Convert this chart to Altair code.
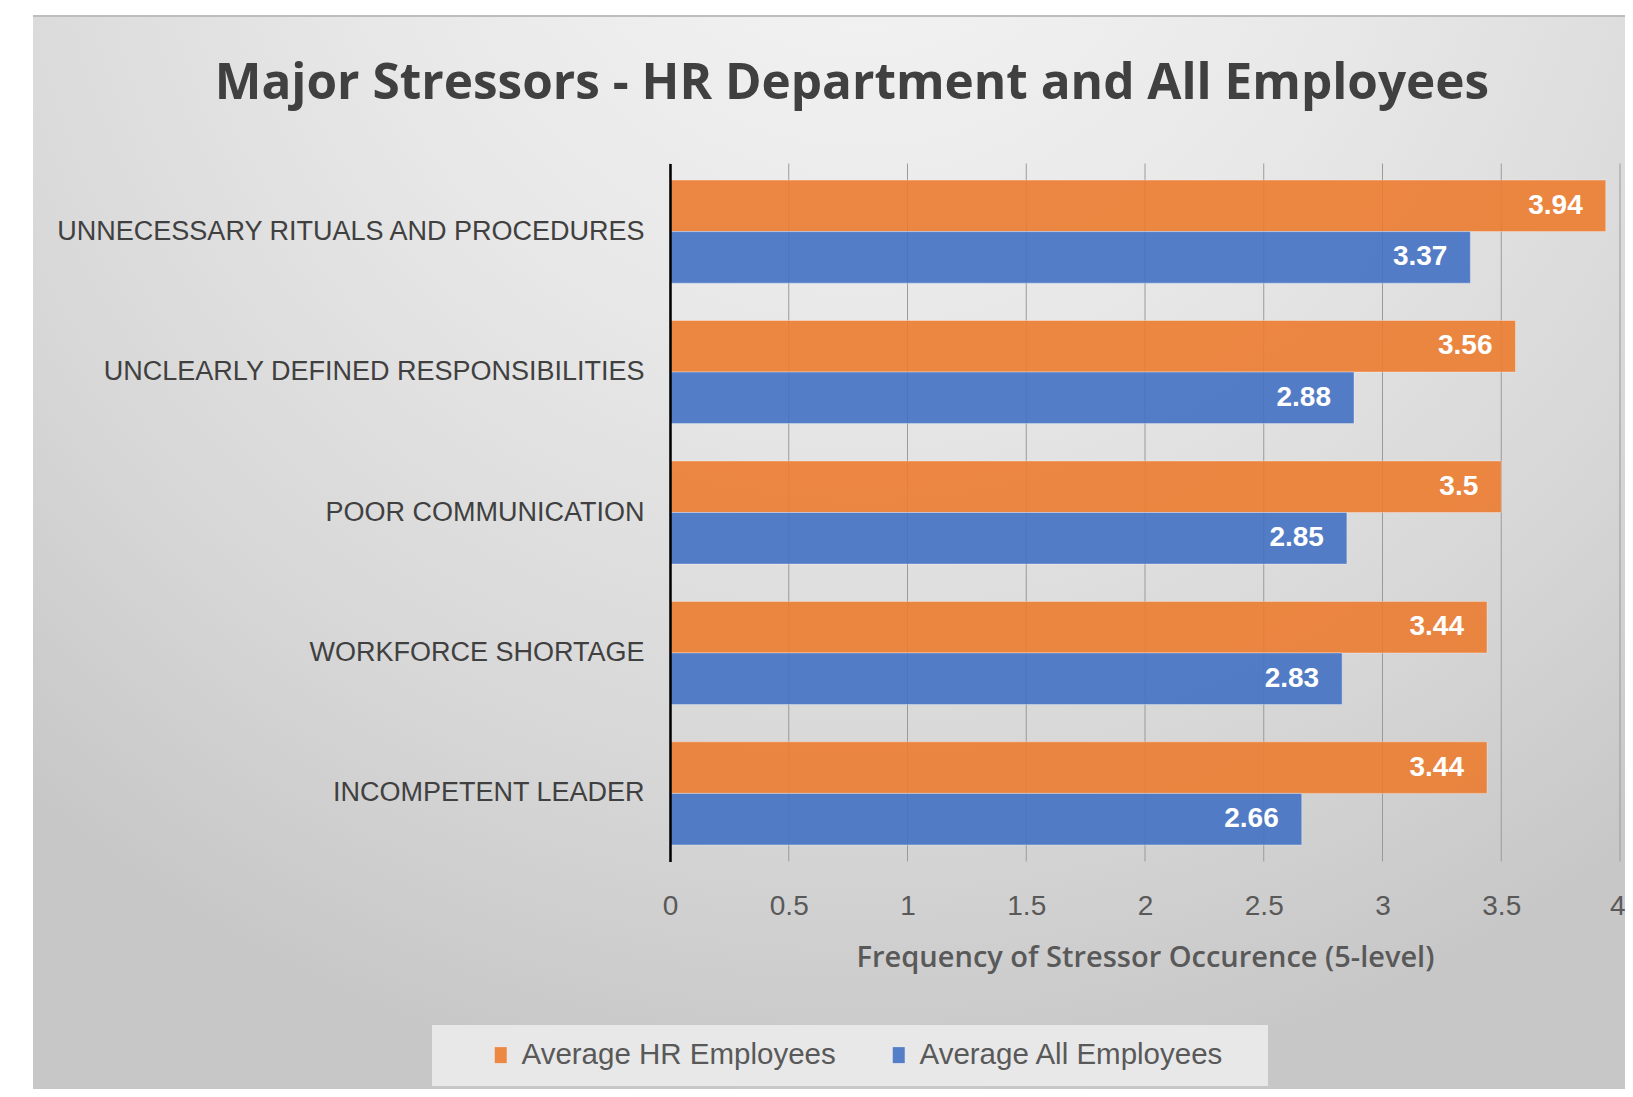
import altair as alt
import pandas as pd

# ---- data ----
categories = [
    "UNNECESSARY RITUALS AND PROCEDURES",
    "UNCLEARLY DEFINED RESPONSIBILITIES",
    "POOR COMMUNICATION",
    "WORKFORCE SHORTAGE",
    "INCOMPETENT LEADER",
]
series_names = ["Average HR Employees", "Average All Employees"]
hr_values = [3.94, 3.56, 3.5, 3.44, 3.44]
all_values = [3.37, 2.88, 2.85, 2.83, 2.66]
x_ticks = [0, 0.5, 1, 1.5, 2, 2.5, 3, 3.5, 4]
series_colors = ["#ED7D31", "#4472C4"]
chart_title = "Major Stressors - HR Department and All Employees"
x_title = "Frequency of Stressor Occurence (5-level)"

rows = []
for c, h, a in zip(categories, hr_values, all_values):
    rows.append({"category": c, "series": series_names[0], "value": h})
    rows.append({"category": c, "series": series_names[1], "value": a})
df = pd.DataFrame(rows)
grid_df = pd.DataFrame({"value": x_ticks})
one = pd.DataFrame({"k": [0]})

W, H = 950, 698
PAD = {"left": 662, "top": 155.5, "right": 5, "bottom": 227.5}

x_enc = alt.X(
    "value:Q",
    scale=alt.Scale(domain=[0, 4], nice=False, zero=True),
    axis=alt.Axis(
        values=x_ticks, format="~g", grid=False, domain=False, ticks=False,
        labelFont="Liberation Sans", labelFontSize=28, labelColor="#595959",
        labelBaseline="alphabetic", labelPadding=53, labelFlush=False,
        labelAlign={"condition": {"test": "datum.value >= 4", "value": "right"}, "value": "center"},
        labelOffset={"condition": {"test": "datum.value >= 4", "value": 5}, "value": 0},
        title=x_title, titleFont="Open Sans", titleFontWeight=600,
        titleFontSize=29, titleColor="#595959", titleBaseline="alphabetic",
        titleY=105, zindex=1,
    ),
)
y_enc = alt.Y(
    "category:N", sort=categories,
    scale=alt.Scale(paddingInner=0.266, paddingOuter=0.118),
    axis=alt.Axis(
        title=None, domain=True, domainColor="#000000", domainWidth=2.5,
        ticks=False, grid=False, labelFont="Liberation Sans", labelFontSize=27,
        labelColor="#404040", labelPadding=26, labelLimit=0, zindex=1,
    ),
)
yoff_enc = alt.YOffset("series:N", sort=series_names,
                       scale=alt.Scale(paddingInner=0, paddingOuter=0))

gradient = {
    "gradient": "radial",
    "x1": 0.52, "y1": 0.05, "r1": 0,
    "x2": 0.52, "y2": 0.05, "r2": 0.8,
    "stops": [
        {"offset": 0, "color": "#f5f5f5"},
        {"offset": 0.4, "color": "#e8e8e8"},
        {"offset": 0.75, "color": "#d7d7d7"},
        {"offset": 1, "color": "#c7c7c7"},
    ],
}

bg = alt.Chart(one).mark_rect(color=gradient).encode(
    x=alt.value(-637), x2=alt.value(W + 5),
    y=alt.value(-147.5), y2=alt.value(H + 227.5),
)
top_line = alt.Chart(one).mark_rule(color="#bdbdbd", strokeWidth=2).encode(
    x=alt.value(-637), x2=alt.value(W + 5), y=alt.value(-147.5),
)
legend_box = alt.Chart(one).mark_rect(color="#e8e8e8").encode(
    x=alt.value(-238), x2=alt.value(598), y=alt.value(861.5), y2=alt.value(922.5),
)
title_text = alt.Chart(one).mark_text(
    text=chart_title, font="Open Sans", fontSize=49.5, fontWeight="bold",
    color="#404040", align="center", baseline="alphabetic",
).encode(x=alt.value(182), y=alt.value(-64.5))

grid = alt.Chart(grid_df).mark_rule(color="#9a9a9a", strokeWidth=1).encode(
    x=x_enc, y=alt.value(0), y2=alt.value(H),
)

bars = alt.Chart(df).mark_bar(
    opacity=0.9, stroke="#ffffff", strokeOpacity=0.35, strokeWidth=1
).encode(
    y=y_enc, yOffset=yoff_enc, x=x_enc,
    color=alt.Color(
        "series:N",
        scale=alt.Scale(domain=series_names, range=series_colors),
        legend=alt.Legend(
            title=None, orient="none", legendX=-199, legendY=861.5,
            direction="horizontal", columns=2,
            labelFont="Liberation Sans", labelFontSize=29.5, labelColor="#595959",
            labelLimit=0, labelOffset=6,
            symbolType="M-0.75,-1H0.75V1H-0.75Z", symbolSize=256,
            symbolOpacity=0.9, symbolStrokeWidth=0,
            padding=15, columnPadding=48,
        ),
    ),
)

labels = alt.Chart(df).mark_text(
    align="right", baseline="middle", dx=-23, color="white",
    font="Liberation Sans", fontSize=28, fontWeight="bold",
).encode(
    y=y_enc, yOffset=yoff_enc, x=x_enc,
    text=alt.Text("value:Q", format=".2~f"),
)

chart = alt.layer(bg, top_line, legend_box, title_text, grid, bars, labels).properties(
    width=W, height=H,
    autosize=alt.AutoSizeParams(type="none"),
    padding=PAD,
    background="white",
).configure_view(stroke=None)

chart.save("out.html", embed_options={"renderer": "svg", "actions": False})
